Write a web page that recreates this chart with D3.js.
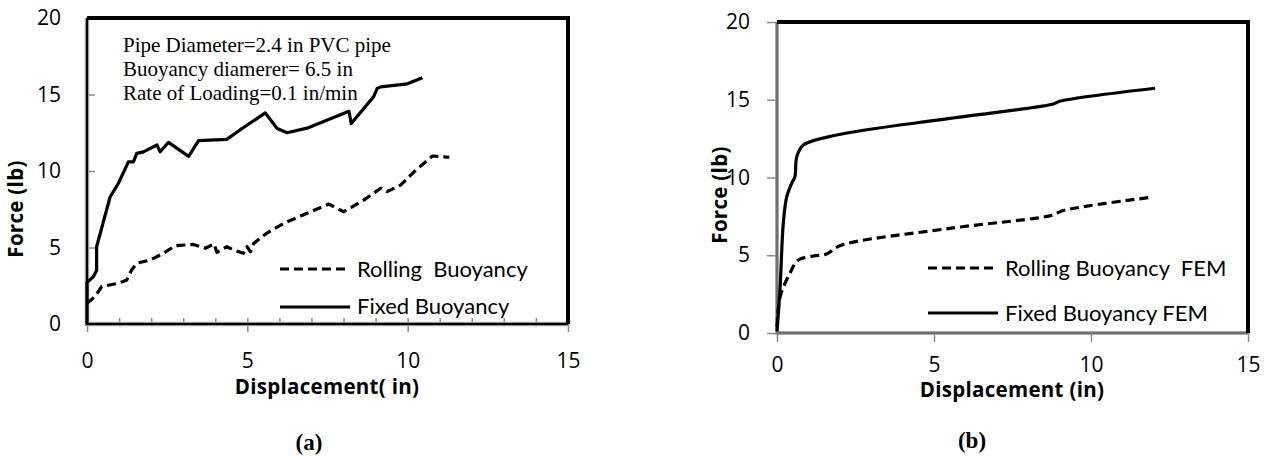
<!DOCTYPE html>
<html>
<head>
<meta charset="utf-8">
<script src="https://cdn.jsdelivr.net/npm/d3@7"></script>
<style>
  body { margin: 0; background: #fff; }
  svg { display: block; }
  .tick text { font-family: "Open Sans", sans-serif; font-size: 21px; fill: #000; }
  .tick line { stroke: #8c8c8c; stroke-width: 1.5; }
  .title { font-family: "Open Sans", sans-serif; font-size: 20.5px; font-weight: bold; letter-spacing: 0.3px; }
  .legend { font-family: Lato, "Open Sans", sans-serif; font-size: 22px; white-space: pre; }
  .note { font-family: "Liberation Serif", "Times New Roman", serif; font-size: 21px; }
  .panel { font-family: "Liberation Serif", "Times New Roman", serif; font-size: 23px; font-weight: bold; }
</style>
</head>
<body>
<div id="graph"></div>
<script>
"use strict";

// Tick values shared by both panels
const xTicks = [0, 5, 10, 15];
const yTicks = [0, 5, 10, 15, 20];

// (a) experiment, [displacement, force]
const rollingA = [
  [0, 1.35], [0.25, 1.8], [0.46, 2.45], [0.98, 2.66], [1.24, 2.88], [1.39, 3.53],
  [1.55, 3.97], [1.97, 4.18], [2.38, 4.62], [2.75, 5.12], [3.32, 5.2], [3.69, 4.95],
  [3.96, 5.23], [4.05, 4.69], [4.36, 5.05], [4.57, 4.84], [4.88, 4.62], [4.99, 5.05],
  [5.1, 4.72], [5.2, 5.27], [5.6, 5.93], [6.14, 6.58], [6.86, 7.24], [7.54, 7.84],
  [8.0, 7.34], [8.63, 8.1], [9.16, 8.87], [9.36, 8.65], [9.78, 9.08], [10.2, 9.95],
  [10.77, 10.98], [11.03, 10.94], [11.3, 10.9],
];
const fixedA = [
  [0, 0], [0, 2.7], [0.2, 3.1], [0.3, 3.5], [0.3, 5.05], [0.5, 6.6], [0.72, 8.3],
  [0.98, 9.2], [1.29, 10.6], [1.45, 10.6], [1.55, 11.15], [1.76, 11.25], [2.18, 11.7],
  [2.28, 11.26], [2.54, 11.87], [3.17, 10.96], [3.48, 11.98], [4.36, 12.07], [4.78, 12.7],
  [5.56, 13.8], [5.93, 12.78], [6.24, 12.5], [6.86, 12.8], [8.17, 13.9], [8.24, 13.1],
  [8.94, 14.86], [9.05, 15.4], [9.16, 15.5], [9.99, 15.7], [10.46, 16.1],
];

// (b) FEM, [displacement, force]
const rollingB = [
  [0, 0.4], [0.1, 2.33], [0.41, 3.84], [0.68, 4.69], [1.16, 4.95], [1.58, 5.08],
  [2.0, 5.61], [5.5, 6.73], [8.8, 7.59], [9.07, 7.85], [11.93, 8.73],
];
const fixedB = [
  [0, 0.1], [0.1, 2.98], [0.2, 7.05], [0.31, 8.77], [0.47, 9.63], [0.57, 10.05],
  [0.63, 11.34], [0.84, 12.09], [1.9, 12.73], [5.5, 13.8], [8.8, 14.73], [9.0, 14.9],
  [12.04, 15.74],
];

const noteLines = [
  "Pipe Diameter=2.4 in PVC pipe",
  "Buoyancy diamerer= 6.5 in",
  "Rate of Loading=0.1 in/min",
];

const w = 1270;
const h = 457;

const svg = d3.select("#graph").append("svg").attr("width", w).attr("height", h);

const drawSeries = (g, x, y, data, dashed, curve) => {
  const line = d3.line().x((d) => x(d[0])).y((d) => y(d[1])).curve(curve);
  g.append("path")
    .datum(data)
    .attr("fill", "none")
    .attr("stroke", "#000")
    .attr("stroke-width", 3.2)
    .attr("stroke-linejoin", "round")
    .attr("stroke-dasharray", dashed ? "9,5" : null)
    .attr("d", line);
};

const drawLegend = (g, x0, items) => {
  items.forEach((item) => {
    g.append("line")
      .attr("x1", x0).attr("x2", x0 + 70)
      .attr("y1", item.y).attr("y2", item.y)
      .attr("stroke", "#000").attr("stroke-width", 3.2)
      .attr("stroke-dasharray", item.dashed ? "9,5" : null);
    g.append("text")
      .attr("class", "legend")
      .attr("x", x0 + 77)
      .attr("y", item.ty)
      .text(item.label);
  });
};

// ---------- panel (a) ----------
const xa = d3.scaleLinear().domain([0, 15]).range([87, 568]);
const ya = d3.scaleLinear().domain([0, 20]).range([324, 18]);
const ga = svg.append("g");

// minor ticks inside
ga.append("g")
  .attr("transform", `translate(0, ${ya(0)})`)
  .call(d3.axisBottom(xa).tickValues(d3.range(1, 16)).tickSize(-6).tickFormat(""))
  .call((s) => s.select(".domain").remove());

ga.append("g")
  .attr("transform", `translate(0, ${ya(0)})`)
  .call(d3.axisBottom(xa).tickValues(xTicks).tickSize(8).tickPadding(21))
  .call((s) => s.select(".domain").remove());

ga.append("g")
  .attr("transform", `translate(${xa(0)}, 0)`)
  .call(d3.axisLeft(ya).tickValues(yTicks).tickSize(-8).tickPadding(26))
  .call((s) => s.select(".domain").remove());

// frame: double axis lines left / bottom, thick black top / right
ga.append("path")
  .attr("d", `M${xa(0)},${ya(20)}V${ya(0)}H${xa(15)}`)
  .attr("fill", "none").attr("stroke", "#9a9a9a").attr("stroke-width", 4.5);
ga.append("path")
  .attr("d", `M${xa(0)},${ya(20)}V${ya(0)}H${xa(15)}`)
  .attr("fill", "none").attr("stroke", "#000").attr("stroke-width", 2);
ga.append("path")
  .attr("d", `M${xa(0)},${ya(20)}H${xa(15)}V${ya(0)}`)
  .attr("fill", "none").attr("stroke", "#000").attr("stroke-width", 4);

drawSeries(ga, xa, ya, rollingA, true, d3.curveLinear);
drawSeries(ga, xa, ya, fixedA, false, d3.curveLinear);

ga.selectAll(".note")
  .data(noteLines)
  .enter()
  .append("text")
  .attr("class", "note")
  .attr("x", 123)
  .attr("y", (d, i) => 52 + 24 * i)
  .text((d) => d);

drawLegend(ga, 280, [
  { label: "Rolling  Buoyancy", y: 269, ty: 277, dashed: true },
  { label: "Fixed Buoyancy", y: 307, ty: 314, dashed: false },
]);

ga.append("text").attr("class", "title")
  .attr("transform", "translate(23, 209) rotate(-90)")
  .attr("text-anchor", "middle").text("Force (lb)");
ga.append("text").attr("class", "title")
  .attr("x", 327).attr("y", 394)
  .attr("text-anchor", "middle").text("Displacement( in)");
ga.append("text").attr("class", "panel")
  .attr("x", 309).attr("y", 450)
  .attr("text-anchor", "middle").text("(a)");

// ---------- panel (b) ----------
const xb = d3.scaleLinear().domain([0, 15]).range([777, 1248]);
const yb = d3.scaleLinear().domain([0, 20]).range([333, 22]);
const gb = svg.append("g");

gb.append("g")
  .attr("transform", `translate(0, ${yb(0)})`)
  .call(d3.axisBottom(xb).tickValues(xTicks).tickSize(9).tickPadding(15))
  .call((s) => s.select(".domain").remove());

gb.append("g")
  .attr("transform", `translate(${xb(0)}, 0)`)
  .call(d3.axisLeft(yb).tickValues(yTicks).tickSize(10).tickPadding(17))
  .call((s) => s.select(".domain").remove());

gb.append("path")
  .attr("d", `M${xb(0)},${yb(20)}V${yb(0)}H${xb(15)}`)
  .attr("fill", "none").attr("stroke", "#8c8c8c").attr("stroke-width", 3.5);
gb.append("path")
  .attr("d", `M${xb(0)},${yb(20)}V${yb(0)}H${xb(15)}`)
  .attr("fill", "none").attr("stroke", "#555").attr("stroke-width", 1);
gb.append("path")
  .attr("d", `M${xb(0)},${yb(20)}H${xb(15)}V${yb(0)}`)
  .attr("fill", "none").attr("stroke", "#000").attr("stroke-width", 4);

drawSeries(gb, xb, yb, rollingB, true, d3.curveCatmullRom);
drawSeries(gb, xb, yb, fixedB, false, d3.curveCatmullRom);

drawLegend(gb, 928, [
  { label: "Rolling Buoyancy  FEM", y: 268, ty: 276, dashed: true },
  { label: "Fixed Buoyancy FEM", y: 313, ty: 321, dashed: false },
]);

gb.append("text").attr("class", "title")
  .attr("transform", "translate(727, 195) rotate(-90)")
  .attr("text-anchor", "middle").text("Force (lb)");
gb.append("text").attr("class", "title")
  .attr("x", 1012).attr("y", 397)
  .attr("text-anchor", "middle").text("Displacement (in)");
gb.append("text").attr("class", "panel")
  .attr("x", 972).attr("y", 448)
  .attr("text-anchor", "middle").text("(b)");
</script>
</body>
</html>
